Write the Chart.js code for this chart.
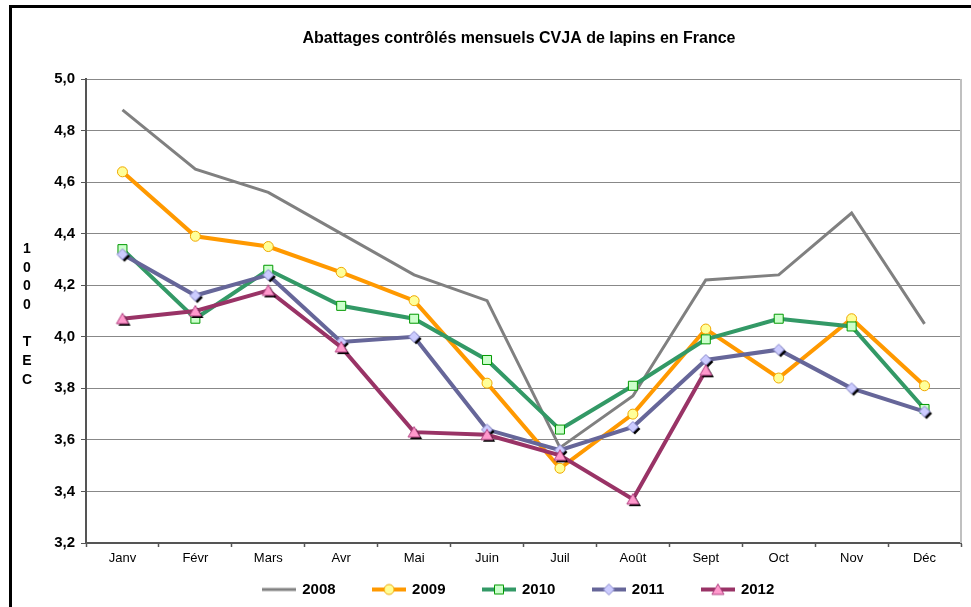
<!DOCTYPE html>
<html><head><meta charset="utf-8">
<script src="https://cdn.jsdelivr.net/npm/chart.js@4.4.0/dist/chart.umd.min.js"></script>
<style>html,body{margin:0;padding:0;background:#fff;}</style>
</head><body>
<canvas id="c" width="971" height="607"></canvas>
<script>
const categories = ['Janv','Févr','Mars','Avr','Mai','Juin','Juil','Août','Sept','Oct','Nov','Déc'];
const s2008 = [4.88,4.65,4.56,4.40,4.24,4.14,3.57,3.77,4.22,4.24,4.48,4.05];
const s2009 = [4.64,4.39,4.35,4.25,4.14,3.82,3.49,3.70,4.03,3.84,4.07,3.81];
const s2010 = [4.34,4.07,4.26,4.12,4.07,3.91,3.64,3.81,3.99,4.07,4.04,3.72];
const s2011 = [4.32,4.16,4.24,3.98,4.00,3.64,3.56,3.65,3.91,3.95,3.80,3.71];
const s2012 = [4.07,4.10,4.18,3.96,3.63,3.62,3.54,3.37,3.87];
const seriesNames = ['2008','2009','2010','2011','2012'];
const yTickLabels = ['3,2','3,4','3,6','3,8','4,0','4,2','4,4','4,6','4,8','5,0'];
const titleText = 'Abattages contrôlés mensuels CVJA de lapins en France';
const yTitleChars = ['1','0','0','0','','T','E','C'];

const FONT = "'Liberation Sans', Arial, sans-serif";
Chart.defaults.font.family = FONT;
Chart.defaults.color = '#000';
// let tick labels draw outside their (deliberately narrow) scale boxes
[Chart.CategoryScale, Chart.LinearScale].forEach(S => { S.prototype._computeLabelArea = function () { return undefined; }; });

function shapePath(g, shape, cx, cy, s) {
  g.beginPath();
  if (shape === 'diamond') {
    g.moveTo(cx, cy - s); g.lineTo(cx + s, cy); g.lineTo(cx, cy + s); g.lineTo(cx - s, cy);
  } else if (shape === 'triangle') {
    g.moveTo(cx, cy - s); g.lineTo(cx + s * 1.1, cy + s * 0.9); g.lineTo(cx - s * 1.1, cy + s * 0.9);
  } else if (shape === 'square') {
    g.rect(cx - s, cy - s, 2 * s, 2 * s);
  } else if (shape === 'circle') {
    g.arc(cx, cy, s, 0, Math.PI * 2);
  }
  g.closePath();
}
function makeMarker(shape, fill, stroke, s, shadow) {
  const S = 20, c = document.createElement('canvas');
  c.width = S; c.height = S;
  const g = c.getContext('2d');
  if (shadow) { shapePath(g, shape, S / 2 + 2, S / 2 + 2, s); g.fillStyle = '#000'; g.fill(); }
  shapePath(g, shape, S / 2, S / 2, s);
  g.fillStyle = fill; g.fill();
  g.lineWidth = 1; g.strokeStyle = stroke; g.stroke();
  return c;
}
function makeLegendImg(lineColor, lw, shape, fill, stroke, s) {
  const W = 34, H = 16, c = document.createElement('canvas');
  c.width = W; c.height = H;
  const g = c.getContext('2d');
  g.strokeStyle = lineColor; g.lineWidth = lw;
  g.beginPath(); g.moveTo(0, H / 2); g.lineTo(W, H / 2); g.stroke();
  if (shape) {
    shapePath(g, shape, W / 2, H / 2, s);
    g.fillStyle = fill; g.fill(); g.lineWidth = 1; g.strokeStyle = stroke; g.stroke();
  }
  return c;
}

const styles = [
  {line: '#808080', lw: 3, shape: null},
  {line: '#FF9900', lw: 4, shape: 'circle', fill: '#FFFF99', stroke: '#F0A800', s: 5},
  {line: '#339966', lw: 4, shape: 'square', fill: '#CCFFCC', stroke: '#009900', s: 4.5},
  {line: '#666699', lw: 4, shape: 'diamond', fill: '#CCCCFF', stroke: '#8888CC', s: 5.5, shadow: true},
  {line: '#993366', lw: 4, shape: 'triangle', fill: '#FF99CC', stroke: '#B04080', s: 5.5, shadow: true}
];
const seriesData = [s2008, s2009, s2010, s2011, s2012];

const datasets = seriesData.map((d, i) => {
  const st = styles[i];
  const ds = {
    label: seriesNames[i], data: d, borderColor: st.line, borderWidth: st.lw,
    backgroundColor: st.line, tension: 0, order: 5 - i, fill: false
  };
  if (!st.shape) { ds.pointRadius = 0; }
  else if (st.shape === 'circle') {
    ds.pointStyle = 'circle'; ds.pointRadius = st.s; ds.pointBackgroundColor = st.fill;
    ds.pointBorderColor = st.stroke; ds.pointBorderWidth = 1;
  } else if (st.shape === 'square') {
    ds.pointStyle = 'rect'; ds.pointRadius = st.s * Math.SQRT2; ds.pointBackgroundColor = st.fill;
    ds.pointBorderColor = st.stroke; ds.pointBorderWidth = 1;
  } else {
    ds.pointStyle = makeMarker(st.shape, st.fill, st.stroke, st.s, st.shadow); ds.pointRadius = 6;
  }
  return ds;
});
const legendImgs = styles.map(st => makeLegendImg(st.line, st.lw, st.shape, st.fill, st.stroke, st.s));

const framePlugin = {
  id: 'frame',
  beforeDraw(chart) {
    const ctx = chart.ctx;
    ctx.save(); ctx.fillStyle = '#fff'; ctx.fillRect(0, 0, chart.width, chart.height); ctx.restore();
  },
  afterDraw(chart) {
    const ctx = chart.ctx, a = chart.chartArea;
    ctx.save();
    ctx.fillStyle = '#c0c0c0';
    ctx.fillRect(a.right - 1, a.top, 2, a.bottom - a.top);
    ctx.fillStyle = '#000';
    ctx.fillRect(9, 5, chart.width - 9, 3);
    ctx.fillRect(9, 5, 3, chart.height - 5);
    ctx.font = 'bold 14px ' + FONT;
    ctx.textAlign = 'center'; ctx.textBaseline = 'middle';
    const mid = (a.top + a.bottom) / 2 + 3.5;
    yTitleChars.forEach((ch, i) => {
      if (ch) ctx.fillText(ch, 27, mid + (i - 3.5) * 18.7);
    });
    ctx.restore();
  }
};

new Chart(document.getElementById('c'), {
  type: 'line',
  data: {labels: categories, datasets},
  plugins: [framePlugin],
  options: {
    responsive: false, animation: false, devicePixelRatio: 1,
    events: [],
    layout: {padding: {left: 73, right: 6, top: 0, bottom: 0}},
    plugins: {
      tooltip: {enabled: false},
      title: {display: true, text: titleText, font: {size: 16, weight: 'bold'}, color: '#000',
        padding: {top: 29.4, bottom: 30.4}},
      legend: {
        display: true, position: 'bottom',
        labels: {
          usePointStyle: true, pointStyleWidth: 31, padding: 38,
          font: {size: 15, weight: 'bold'}, color: '#000',
          generateLabels: (chart) => chart.data.datasets.map((ds, i) => ({
            text: ds.label, pointStyle: legendImgs[i], datasetIndex: i,
            fillStyle: ds.borderColor, strokeStyle: ds.borderColor, lineWidth: 0, hidden: false
          }))
        }
      }
    },
    scales: {
      x: {
        offset: true,
        grid: {display: true, offset: true, drawOnChartArea: false, drawTicks: true, tickLength: 4, color: '#555', tickWidth: 1.5},
        border: {display: true, color: '#555', width: 2},
        ticks: {font: {size: 13}, color: '#000', padding: 4, maxRotation: 0, autoSkip: false},
        afterFit: (s) => { s.height = 1; s.paddingLeft = 0; s.paddingRight = 0; }
      },
      y: {
        min: 3.2, max: 5.0,
        grid: {color: '#888', lineWidth: 1, drawTicks: true, tickLength: 5, tickColor: '#555'},
        border: {display: true, color: '#555', width: 2},
        ticks: {stepSize: 0.2, font: {size: 15, weight: 'bold'}, color: '#000', padding: 6,
          callback: (v) => yTickLabels[Math.round((v - 3.2) / 0.2)]},
        afterFit: (s) => { s.width = 13; s.paddingTop = 0; s.paddingBottom = 0; }
      }
    }
  }
});
</script>
</body></html>
